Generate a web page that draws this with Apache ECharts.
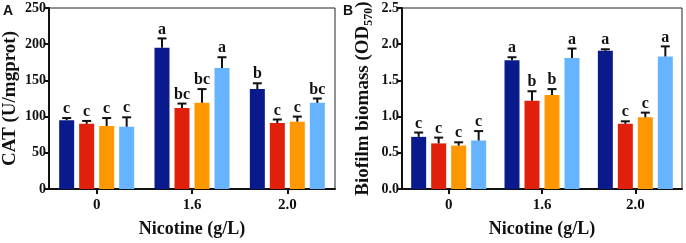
<!DOCTYPE html>
<html>
<head>
<meta charset="utf-8">
<script src="https://cdn.jsdelivr.net/npm/echarts@6/dist/echarts.min.js"></script>
<style>
  html, body { margin: 0; padding: 0; background: #fff; }
  #chart { width: 686px; height: 243px; }
</style>
</head>
<body>
<div id="chart"></div>
<script>
// 横轴分组（尼古丁浓度）
const categories = ["0", "1.6", "2.0"];

// A: CAT 活性（均值 / 误差 / 显著性字母）
const catNavy = [95, 195, 138];
const catNavyErr = [3, 13, 8];
const catNavyTag = ["c", "a", "b"];
const catRed = [90, 112, 91];
const catRedErr = [4, 6, 5];
const catRedTag = ["c", "bc", "c"];
const catOrange = [87, 119, 93];
const catOrangeErr = [11, 19, 7];
const catOrangeTag = ["c", "bc", "c"];
const catSky = [86, 167, 119];
const catSkyErr = [13, 15, 6];
const catSkyTag = ["c", "a", "bc"];

// B: 生物膜量 OD570
const bioNavy = [0.72, 1.78, 1.91];
const bioNavyErr = [0.06, 0.04, 0.02];
const bioNavyTag = ["c", "a", "a"];
const bioRed = [0.63, 1.22, 0.9];
const bioRedErr = [0.08, 0.13, 0.035];
const bioRedTag = ["c", "b", "c"];
const bioOrange = [0.6, 1.3, 0.99];
const bioOrangeErr = [0.045, 0.08, 0.065];
const bioOrangeTag = ["c", "b", "c"];
const bioSky = [0.67, 1.81, 1.83];
const bioSkyErr = [0.13, 0.13, 0.14];
const bioSkyTag = ["c", "a", "a"];

const catTicks = [0, 50, 100, 150, 200, 250];
const bioTicks = [0, 0.5, 1.0, 1.5, 2.0, 2.5];

const COLORS = ["#0a1a8c", "#e0200a", "#ff9800", "#66b3ff"];
const SERIF = "'Liberation Serif', 'Times New Roman', serif";
const BAR_W = 15;
const STEP = 20; // 柱宽 + 间隔

const panels = [
  {
    means: [catNavy, catRed, catOrange, catSky],
    errs: [catNavyErr, catRedErr, catOrangeErr, catSkyErr],
    tags: [catNavyTag, catRedTag, catOrangeTag, catSkyTag],
    ticks: catTicks,
    fmt: (v) => String(v),
  },
  {
    means: [bioNavy, bioRed, bioOrange, bioSky],
    errs: [bioNavyErr, bioRedErr, bioOrangeErr, bioSkyErr],
    tags: [bioNavyTag, bioRedTag, bioOrangeTag, bioSkyTag],
    ticks: bioTicks,
    fmt: (v) => v.toFixed(1),
  },
];

function errorSeries(p, i) {
  const mean = panels[p].means[i];
  const err = panels[p].errs[i];
  const tag = panels[p].tags[i];
  return {
    type: "custom",
    xAxisIndex: p,
    yAxisIndex: p,
    z: 5,
    clip: false,
    data: mean.map((v, k) => [k, v, err[k]]),
    renderItem(params, api) {
      const k = api.value(0);
      const base = api.coord([k, api.value(1)]);
      const top = api.coord([k, api.value(1) + api.value(2)]);
      const x = base[0] + (i - 1.5) * STEP;
      const style = { stroke: "#111", lineWidth: 2 };
      return {
        type: "group",
        children: [
          { type: "line", shape: { x1: x, y1: base[1], x2: x, y2: top[1] }, style },
          { type: "line", shape: { x1: x - 4.5, y1: top[1], x2: x + 4.5, y2: top[1] }, style },
          {
            type: "text",
            style: {
              text: tag[params.dataIndex],
              x: x,
              y: top[1] - 1,
              align: "center",
              verticalAlign: "bottom",
              font: "bold 16px " + SERIF,
              fill: "#111",
            },
          },
        ],
      };
    },
  };
}

const grids = [
  { left: 49, top: 8, width: 286, height: 185 },
  { left: 402, top: 8, width: 280, height: 185 },
];

const series = [];
panels.forEach((pn, p) => {
  pn.means.forEach((arr, i) => {
    series.push({
      type: "bar",
      xAxisIndex: p,
      yAxisIndex: p,
      barWidth: BAR_W,
      barGap: "33.3%",
      itemStyle: { color: COLORS[i] },
      data: arr,
      z: 2,
    });
  });
  pn.means.forEach((arr, i) => series.push(errorSeries(p, i)));
});

const axisLine = { show: true, lineStyle: { color: "#111", width: 2 } };

const chart = echarts.init(document.getElementById("chart"), null, { renderer: "canvas" });
chart.setOption({
  animation: false,
  backgroundColor: "#fff",
  grid: grids.map((g) => Object.assign({ show: true, borderColor: "#222", borderWidth: 1, backgroundColor: "transparent" }, g)),
  graphic: [
    { type: "text", left: 3, top: 4, style: { text: "A", font: "bold 14px 'Liberation Sans', Arial, sans-serif", fill: "#111" } },
    { type: "text", left: 343, top: 4, style: { text: "B", font: "bold 14px 'Liberation Sans', Arial, sans-serif", fill: "#111" } },
  ],
  xAxis: [0, 1].map((p) => ({
    type: "category",
    gridIndex: p,
    data: categories,
    axisLine,
    axisTick: { show: true, alignWithLabel: true, length: 5, lineStyle: { color: "#111", width: 2 } },
    axisLabel: { color: "#111", fontFamily: SERIF, fontWeight: "bold", fontSize: 15, margin: 9 },
    name: "Nicotine (g/L)",
    nameLocation: "middle",
    nameGap: 31,
    nameTextStyle: { color: "#111", fontFamily: SERIF, fontWeight: "bold", fontSize: 18 },
  })),
  yAxis: [0, 1].map((p) => ({
    type: "value",
    gridIndex: p,
    min: panels[p].ticks[0],
    max: panels[p].ticks[panels[p].ticks.length - 1],
    interval: panels[p].ticks[1] - panels[p].ticks[0],
    splitLine: { show: false },
    axisLine,
    axisTick: { show: true, length: 4, lineStyle: { color: "#111", width: 2 } },
    axisLabel: { color: "#111", fontFamily: SERIF, fontWeight: "bold", fontSize: 14, margin: 3, formatter: panels[p].fmt },
    name: p === 0 ? "CAT (U/mgprot)" : "Biofilm biomass (OD{sub|570})",
    nameLocation: "middle",
    nameGap: p === 0 ? 29 : 27,
    nameTextStyle: {
      color: "#111",
      fontFamily: SERIF,
      fontWeight: "bold",
      fontSize: 19,
      rich: {
        sub: { fontFamily: SERIF, fontWeight: "bold", fontSize: 12, color: "#111", verticalAlign: "bottom", padding: [12, 0, 0, 0] },
      },
    },
  })),
  series,
});
</script>
</body>
</html>
